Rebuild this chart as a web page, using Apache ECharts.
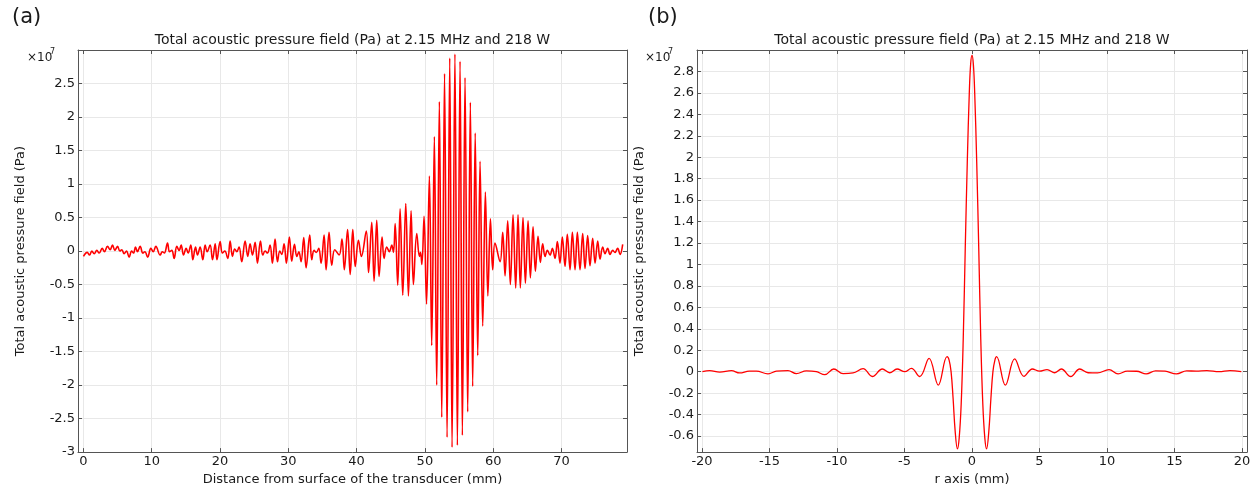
<!DOCTYPE html>
<html>
<head>
<meta charset="utf-8">
<script src="https://cdn.jsdelivr.net/npm/echarts@6/dist/echarts.min.js"></script>
<style>
html, body { margin: 0; padding: 0; background: #fff; }
#chart { width: 1254px; height: 491px; }
</style>
</head>
<body>
<div id="chart"></div>
<script>
// (a) axial profile: distance (mm) and pressure (x1e7 Pa), peaks/troughs
const distA = [
  0.00, 0.55, 0.89, 1.23, 1.57, 1.96, 2.30, 2.74, 3.08, 3.52, 3.91, 4.25, 4.60, 4.99, 5.33, 5.62,
  5.95, 6.30, 6.69, 7.05, 7.33, 7.62, 7.91, 8.30, 8.70, 9.00, 9.40, 9.87, 10.21, 10.60, 11.23, 11.55,
  11.85, 12.31, 12.60, 12.94, 13.28, 13.67, 14.01, 14.31, 14.65, 15.04, 15.33, 15.72, 16.02, 16.41, 16.70, 17.09,
  17.48, 17.82, 18.11, 18.55, 18.90, 19.29, 19.55, 20.01, 20.35, 20.70, 21.13, 21.48, 21.82, 22.15, 22.45, 22.79,
  23.18, 23.67, 24.06, 24.40, 24.75, 25.14, 25.48, 25.92, 26.26, 26.60, 26.94, 27.33, 27.67, 28.06, 28.41, 28.75,
  29.04, 29.38, 29.72, 30.16, 30.50, 30.90, 31.24, 31.55, 31.87, 32.26, 32.60, 33.14, 33.43, 33.77, 34.10, 34.46,
  34.80, 35.24, 35.53, 35.97, 36.36, 36.80, 37.44, 37.86, 38.20, 38.68, 39.06, 39.44, 39.80, 40.27, 40.70, 41.42,
  41.75, 42.22, 42.56, 42.95, 43.29, 43.73, 44.02, 44.41, 44.80, 45.15, 45.40, 45.65, 46.02, 46.37, 46.76, 47.20,
  47.59, 47.98, 48.32, 48.81, 49.20, 49.36, 49.56, 49.88, 50.24, 50.66, 51.00, 51.39, 51.73, 52.12, 52.47, 52.88,
  53.25, 53.64, 53.98, 54.40, 54.76, 55.15, 55.49, 55.88, 56.27, 56.66, 57.00, 57.37, 57.74, 58.08, 58.47, 58.86,
  59.22, 59.60, 59.93, 60.27, 61.01, 61.40, 61.74, 62.13, 62.52, 62.91, 63.30, 63.64, 63.98, 64.37, 64.72, 65.11,
  65.45, 65.84, 66.18, 66.57, 66.91, 67.25, 67.60, 67.94, 68.33, 68.67, 69.06, 69.40, 69.79, 70.13, 70.52, 70.86,
  71.26, 71.60, 71.99, 72.33, 72.72, 73.11, 73.45, 73.84, 74.18, 74.57, 74.92, 75.31, 75.65, 76.04, 76.38, 76.77,
  77.11, 77.50, 77.84, 78.23, 78.58, 78.97
];
const presA = [
  -0.08, -0.02, -0.06, 0.00, -0.04, 0.01, -0.03, 0.04, -0.01, 0.07, 0.02, 0.09, 0.01, 0.07, 0.00, 0.02,
  -0.04, 0.00, -0.09, 0.00, -0.03, 0.06, -0.01, 0.07, -0.03, -0.01, -0.09, 0.04, -0.01, 0.07, -0.06, -0.01,
  -0.03, 0.12, -0.01, 0.01, -0.11, 0.07, 0.01, 0.09, -0.06, 0.04, -0.03, 0.09, -0.13, 0.06, -0.06, 0.06,
  -0.13, 0.09, -0.01, 0.09, -0.13, 0.11, -0.13, 0.14, -0.03, 0.00, -0.11, 0.15, -0.08, 0.03, -0.01, 0.06,
  -0.16, 0.15, -0.08, 0.11, -0.06, 0.13, -0.18, 0.15, -0.06, 0.00, -0.03, 0.09, -0.18, 0.18, -0.16, 0.00,
  -0.05, 0.11, -0.18, 0.21, -0.15, 0.10, -0.08, -0.01, -0.16, 0.20, -0.25, 0.24, -0.13, 0.01, -0.02, 0.04,
  -0.18, 0.24, -0.28, 0.28, -0.21, 0.02, -0.06, 0.18, -0.28, 0.32, -0.35, 0.32, -0.23, 0.16, -0.08, 0.30,
  -0.32, 0.43, -0.45, 0.46, -0.38, 0.21, -0.11, 0.06, -0.01, 0.09, -0.02, 0.41, -0.51, 0.63, -0.66, 0.71,
  -0.67, 0.60, -0.50, 0.26, -0.08, -0.02, -0.20, 0.52, -0.79, 1.12, -1.41, 1.71, -2.00, 2.23, -2.48, 2.65,
  -2.78, 2.88, -2.93, 2.94, -2.90, 2.83, -2.75, 2.59, -2.40, 2.22, -2.02, 1.76, -1.56, 1.34, -1.12, 0.88,
  -0.67, 0.48, -0.28, 0.12, -0.16, 0.28, -0.37, 0.45, -0.50, 0.54, -0.55, 0.54, -0.55, 0.50, -0.48, 0.45,
  -0.40, 0.36, -0.30, 0.22, -0.17, 0.11, -0.08, 0.01, -0.06, 0.04, -0.11, 0.14, -0.18, 0.21, -0.23, 0.25,
  -0.28, 0.28, -0.28, 0.28, -0.28, 0.26, -0.26, 0.23, -0.22, 0.19, -0.18, 0.15, -0.12, 0.06, -0.04, 0.04,
  -0.05, 0.01, -0.02, 0.04, -0.05, 0.10
];

// (b) radial profile at the focus: r (mm) and pressure (x1e7 Pa)
const rB = [
  -19.97, -19.43, -18.69, -17.82, -17.21, -16.50, -15.97, -15.11, -14.49, -13.63, -13.01, -12.27, -11.53, -10.91,
  -10.24, -9.55, -8.81, -8.07, -7.38, -6.64, -6.10, -5.55, -4.98, -4.49, -3.87, -3.18, -2.50, -1.85, -1.70,
  -1.55, -1.40, -1.25, -1.08, -0.95, -0.80, -0.65, -0.50, -0.35, -0.20, -0.10, 0.00, 0.10, 0.20, 0.35, 0.50,
  0.65, 0.80, 0.95, 1.08, 1.25, 1.40, 1.55, 1.70, 1.82, 2.47, 3.16, 3.85, 4.47, 5.00, 5.56, 6.13, 6.62,
  7.31, 7.98, 8.60, 9.30, 10.15, 10.82, 11.50, 12.20, 12.90, 13.60, 14.30, 15.14, 15.90, 16.60, 17.40, 18.30,
  19.10, 19.95
];
const presB = [
  0.000, 0.010, -0.005, 0.010, -0.012, 0.005, 0.005, -0.020, 0.005, 0.010, -0.018, 0.008, 0.000, -0.028,
  0.025, -0.018, -0.012, 0.028, -0.045, 0.025, -0.010, 0.025, 0.000, 0.030, -0.045, 0.125, -0.125, 0.140, 0.110,
  0.000, -0.250, -0.550, -0.720, -0.620, -0.300, 0.300, 1.150, 1.950, 2.600, 2.870, 2.950, 2.870, 2.600, 1.950, 1.150,
  0.300, -0.300, -0.620, -0.720, -0.550, -0.250, 0.000, 0.110, 0.140, -0.125, 0.120, -0.044, 0.025, 0.005, 0.020, -0.010, 0.025,
  -0.045, 0.025, -0.010, -0.012, 0.020, -0.020, 0.005, 0.004, -0.020, 0.008, 0.005, -0.020, 0.008, 0.005, 0.010, 0.000,
  0.010, 0.000
];

const FONT = 'DejaVu Sans';
const TEXT = '#1a1a1a';
const AXIS = '#555555';
const GRIDLINE = '#e8e8e8';
const TITLE = 'Total acoustic pressure field (Pa) at 2.15 MHz and 218 W';
const YNAME = 'Total acoustic pressure field (Pa)';

const chart = echarts.init(document.getElementById('chart'), null, { renderer: 'canvas' });

// main axis with labels + grid lines
const mainAxis = (o) => Object.assign({
    type: 'value',
    axisLine: { show: true, onZero: false, lineStyle: { color: AXIS, width: 1 } },
    axisTick: { show: true, inside: true, length: 4, lineStyle: { color: AXIS } },
    axisLabel: { margin: 3, color: TEXT, fontSize: 13, fontFamily: FONT },
    splitLine: { show: true, lineStyle: { color: GRIDLINE, width: 1 } },
    nameTextStyle: { color: TEXT, fontSize: 13, fontFamily: FONT }
}, o);

// mirror axis: just the frame line with inward ticks
const frameAxis = (o) => Object.assign({
    type: 'value',
    axisLine: { show: true, onZero: false, lineStyle: { color: AXIS, width: 1 } },
    axisTick: { show: true, inside: true, length: 4, lineStyle: { color: AXIS } },
    axisLabel: { show: false },
    splitLine: { show: false }
}, o);

const xA = { min: -0.8, max: 79.6, minInterval: 10, maxInterval: 10 };
const yA = { min: -3, max: 3, interval: 0.5 };
const xB = { min: -20.37, max: 20.37, minInterval: 5, maxInterval: 5 };
const yB = { min: -0.75, max: 3.0, minInterval: 0.2, maxInterval: 0.2 };

const option = {
    animation: false,
    backgroundColor: '#ffffff',
    grid: [
        { left: 78, top: 50, width: 549, height: 407 },
        { left: 697, top: 50, width: 550, height: 407 }
    ],
    xAxis: [
        mainAxis(Object.assign({ gridIndex: 0, position: 'bottom',
            name: 'Distance from surface of the transducer (mm)', nameLocation: 'middle', nameGap: 15,
            axisLabel: { margin: 3, color: TEXT, fontSize: 13, fontFamily: FONT, showMinLabel: false, showMaxLabel: false }
        }, xA)),
        frameAxis(Object.assign({ gridIndex: 0, position: 'top' }, xA)),
        mainAxis(Object.assign({ gridIndex: 1, position: 'bottom',
            name: 'r axis (mm)', nameLocation: 'middle', nameGap: 15,
            axisLabel: { margin: 3, color: TEXT, fontSize: 13, fontFamily: FONT, showMinLabel: false, showMaxLabel: false }
        }, xB)),
        frameAxis(Object.assign({ gridIndex: 1, position: 'top' }, xB))
    ],
    yAxis: [
        mainAxis(Object.assign({ gridIndex: 0, position: 'left',
            name: YNAME, nameLocation: 'middle', nameGap: 51,
            axisLabel: { margin: 3, color: TEXT, fontSize: 13, fontFamily: FONT, showMinLabel: true, showMaxLabel: false }
        }, yA)),
        frameAxis(Object.assign({ gridIndex: 0, position: 'right' }, yA)),
        mainAxis(Object.assign({ gridIndex: 1, position: 'left',
            name: YNAME, nameLocation: 'middle', nameGap: 51,
            axisLabel: { margin: 3, color: TEXT, fontSize: 13, fontFamily: FONT, showMinLabel: false, showMaxLabel: false }
        }, yB)),
        frameAxis(Object.assign({ gridIndex: 1, position: 'right' }, yB))
    ],
    series: [
        {
            type: 'line',
            xAxisIndex: 0,
            yAxisIndex: 0,
            data: distA.map((d, i) => [d, presA[i]]),
            showSymbol: false,
            symbol: 'none',
            smooth: 0.4,
            lineStyle: { color: '#ff0000', width: 1.6 }
        },
        {
            type: 'line',
            xAxisIndex: 2,
            yAxisIndex: 2,
            data: rB.map((r, i) => [r, presB[i]]),
            showSymbol: false,
            symbol: 'none',
            smooth: 0.4,
            lineStyle: { color: '#ff0000', width: 1.3 }
        }
    ],
    graphic: [
        { type: 'text', x: 12, y: 18, style: { text: '(a)', font: '21px "DejaVu Sans"', fill: TEXT, textVerticalAlign: 'middle', verticalAlign: 'middle' } },
        { type: 'text', x: 648, y: 18, style: { text: '(b)', font: '21px "DejaVu Sans"', fill: TEXT, textVerticalAlign: 'middle', verticalAlign: 'middle' } },
        { type: 'text', x: 352.5, y: 40, style: { text: TITLE, font: '14px "DejaVu Sans"', fill: TEXT, textAlign: 'center', align: 'center', textVerticalAlign: 'middle', verticalAlign: 'middle' } },
        { type: 'text', x: 972, y: 40, style: { text: TITLE, font: '14px "DejaVu Sans"', fill: TEXT, textAlign: 'center', align: 'center', textVerticalAlign: 'middle', verticalAlign: 'middle' } },
        { type: 'text', x: 27, y: 58, style: { text: '×10', font: '12px "DejaVu Sans"', fill: TEXT, textVerticalAlign: 'middle', verticalAlign: 'middle' } },
        { type: 'text', x: 50, y: 52, style: { text: '7', font: '8px "DejaVu Sans"', fill: TEXT, textVerticalAlign: 'middle', verticalAlign: 'middle' } },
        { type: 'text', x: 645, y: 58, style: { text: '×10', font: '12px "DejaVu Sans"', fill: TEXT, textVerticalAlign: 'middle', verticalAlign: 'middle' } },
        { type: 'text', x: 668, y: 52, style: { text: '7', font: '8px "DejaVu Sans"', fill: TEXT, textVerticalAlign: 'middle', verticalAlign: 'middle' } }
    ]
};

chart.setOption(option);
</script>
</body>
</html>
